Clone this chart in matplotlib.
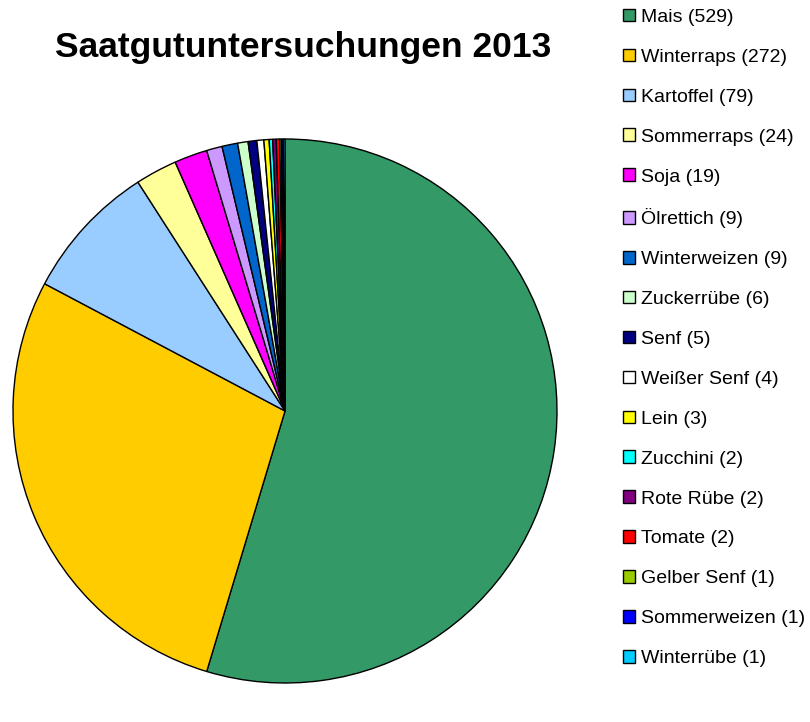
import matplotlib
matplotlib.use("Agg")
import matplotlib.pyplot as plt

# Daten
sorten = ["Mais", "Winterraps", "Kartoffel", "Sommerraps", "Soja", "Ölrettich",
          "Winterweizen", "Zuckerrübe", "Senf", "Weißer Senf", "Lein", "Zucchini",
          "Rote Rübe", "Tomate", "Gelber Senf", "Sommerweizen", "Winterrübe"]
anzahl = [529, 272, 79, 24, 19, 9, 9, 6, 5, 4, 3, 2, 2, 2, 1, 1, 1]
farben = ["#339966", "#FFCC00", "#99CCFF", "#FFFF99", "#FF00FF", "#CC99FF",
          "#0066CC", "#CCFFCC", "#000080", "#FFFFFF", "#FFFF00", "#00FFFF",
          "#800080", "#FF0000", "#99CC00", "#0000FF", "#00CCFF"]

plt.rcParams['font.family'] = ['Liberation Sans', 'DejaVu Sans']

fig = plt.figure(figsize=(8.1, 7.22), dpi=100)
ax = fig.add_axes([13/810, 39/722, 544/810, 544/722])
wedges, _ = ax.pie(anzahl, colors=farben, startangle=90, counterclock=False,
                   radius=1, wedgeprops=dict(edgecolor='black', linewidth=1))
ax.set_xlim(-1.0, 1.0); ax.set_ylim(-1.0, 1.0)
ax.set_aspect('equal')

fig.text(303/810, 1 - 47/722, "Saatgutuntersuchungen 2013", fontsize=25.5,
         fontweight='bold', ha='center', va='center')

labels = [f"{s} ({n})" for s, n in zip(sorten, anzahl)]
fig.legend(wedges, labels, loc='upper left', bbox_to_anchor=(615/810, 1 - 1/722),
           frameon=False, fontsize=14, labelspacing=1.17, handlelength=0.62,
           handleheight=0.62, handletextpad=0.3, borderaxespad=0)

fig.savefig("out.png", dpi=100)
